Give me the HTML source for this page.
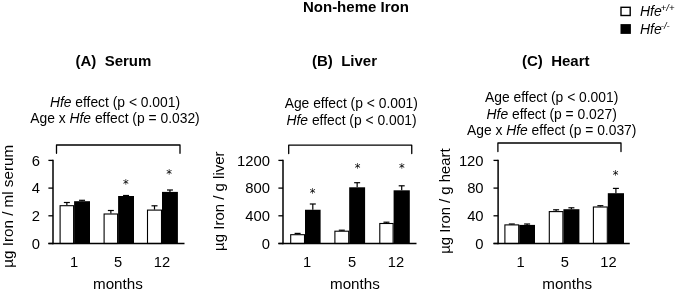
<!DOCTYPE html>
<html><head><meta charset="utf-8"><title>Non-heme Iron</title>
<style>
html,body{margin:0;padding:0;background:#fff;}
svg{display:block;font-family:"Liberation Sans",Arial,sans-serif;fill:#000;}
svg text{fill:#000;}
.b{font-weight:bold;}
.i{font-style:italic;}
</style></head><body>
<svg width="675" height="291" viewBox="0 0 675 291">
<rect width="675" height="291" fill="#fff"/>
<text x="355.9" y="12.1" text-anchor="middle" font-size="15" class="b">Non-heme Iron</text>
<text x="75.5" y="66.3" font-size="15" class="b" xml:space="preserve">(A)  Serum</text>
<text x="312" y="66.3" font-size="15" class="b" xml:space="preserve">(B)  Liver</text>
<text x="522" y="66.3" font-size="15" class="b" xml:space="preserve">(C)  Heart</text>
<rect x="621" y="7.3" width="9.2" height="8.2" fill="#fff" stroke="#000" stroke-width="1.4"/>
<rect x="620.5" y="24.1" width="10.4" height="9.8" fill="#000"/>
<text x="640" y="15.5" font-size="14" class="i">Hfe<tspan font-size="9.5" dx="-1" dy="-4.6">+/+</tspan></text>
<text x="640" y="33.7" font-size="14" class="i">Hfe<tspan font-size="9.5" dx="-1" dy="-4.6">-/-</tspan></text>

<text x="115" y="107.1" text-anchor="middle" font-size="13.85"><tspan class="i">Hfe</tspan> effect (p &lt; 0.001)</text>
<text x="115" y="123.1" text-anchor="middle" font-size="13.85">Age x <tspan class="i">Hfe</tspan> effect (p = 0.032)</text>

<text x="351.3" y="108.1" text-anchor="middle" font-size="13.85">Age effect (p &lt; 0.001)</text>
<text x="351.6" y="124.9" text-anchor="middle" font-size="13.85"><tspan class="i">Hfe</tspan> effect (p &lt; 0.001)</text>

<text x="551.7" y="101.9" text-anchor="middle" font-size="13.85">Age effect (p &lt; 0.001)</text>
<text x="551.7" y="118.7" text-anchor="middle" font-size="13.85"><tspan class="i">Hfe</tspan> effect (p = 0.027)</text>
<text x="551.7" y="134.9" text-anchor="middle" font-size="13.85">Age x <tspan class="i">Hfe</tspan> effect (p = 0.037)</text>
<line x1="66.85" y1="205.2" x2="66.85" y2="202.5" stroke="#000" stroke-width="1.2"/>
<line x1="63.849999999999994" y1="202.5" x2="69.85" y2="202.5" stroke="#000" stroke-width="1.2"/>
<rect x="60.1" y="205.7" width="13.499999999999993" height="37.80000000000001" fill="#fff" stroke="#000" stroke-width="1.1"/>
<line x1="82.05" y1="201.2" x2="82.05" y2="200.3" stroke="#000" stroke-width="1.2"/>
<line x1="79.05" y1="200.3" x2="85.05" y2="200.3" stroke="#000" stroke-width="1.2"/>
<rect x="74.1" y="201.2" width="15.900000000000006" height="42.30000000000001" fill="#000"/>
<line x1="110.85" y1="213.5" x2="110.85" y2="210.5" stroke="#000" stroke-width="1.2"/>
<line x1="107.85" y1="210.5" x2="113.85" y2="210.5" stroke="#000" stroke-width="1.2"/>
<rect x="104.1" y="214.0" width="13.5" height="29.5" fill="#fff" stroke="#000" stroke-width="1.1"/>
<line x1="126.05" y1="196" x2="126.05" y2="195.5" stroke="#000" stroke-width="1.2"/>
<line x1="123.05" y1="195.5" x2="129.05" y2="195.5" stroke="#000" stroke-width="1.2"/>
<rect x="118.1" y="196" width="15.900000000000006" height="47.5" fill="#000"/>
<line x1="154.5" y1="209.6" x2="154.5" y2="205.8" stroke="#000" stroke-width="1.2"/>
<line x1="151.5" y1="205.8" x2="157.5" y2="205.8" stroke="#000" stroke-width="1.2"/>
<rect x="147.5" y="210.1" width="14" height="33.400000000000006" fill="#fff" stroke="#000" stroke-width="1.1"/>
<line x1="169.95" y1="191.9" x2="169.95" y2="190" stroke="#000" stroke-width="1.2"/>
<line x1="166.95" y1="190" x2="172.95" y2="190" stroke="#000" stroke-width="1.2"/>
<rect x="162" y="191.9" width="15.900000000000006" height="51.599999999999994" fill="#000"/>
<line x1="53" y1="159.8" x2="53" y2="244.2" stroke="#000" stroke-width="1.5"/>
<line x1="48.4" y1="243.5" x2="184.5" y2="243.5" stroke="#000" stroke-width="1.5"/>
<line x1="48.4" y1="243.5" x2="53" y2="243.5" stroke="#000" stroke-width="1.3"/>
<text x="40" y="248.6" text-anchor="end" font-size="14.8">0</text>
<line x1="48.4" y1="215.8" x2="53" y2="215.8" stroke="#000" stroke-width="1.3"/>
<text x="40" y="220.9" text-anchor="end" font-size="14.8">2</text>
<line x1="48.4" y1="188.1" x2="53" y2="188.1" stroke="#000" stroke-width="1.3"/>
<text x="40" y="193.2" text-anchor="end" font-size="14.8">4</text>
<line x1="48.4" y1="160.4" x2="53" y2="160.4" stroke="#000" stroke-width="1.3"/>
<text x="40" y="165.5" text-anchor="end" font-size="14.8">6</text>
<text x="74" y="266.8" text-anchor="middle" font-size="14.7">1</text>
<text x="118" y="266.8" text-anchor="middle" font-size="14.7">5</text>
<text x="162" y="266.8" text-anchor="middle" font-size="14.7">12</text>
<text x="117.9" y="289.4" text-anchor="middle" font-size="15.2">months</text>
<text transform="translate(12.6,206.3) rotate(-90)" text-anchor="middle" font-size="15.2">µg Iron / ml serum</text>
<text x="125.9" y="187.7" text-anchor="middle" font-size="11.5" font-family="DejaVu Sans, Liberation Sans, sans-serif">*</text>
<text x="169" y="178.2" text-anchor="middle" font-size="11.5" font-family="DejaVu Sans, Liberation Sans, sans-serif">*</text>
<path d="M56.5 153.3 V145 H180 V153.3" fill="none" stroke="#000" stroke-width="1.3" stroke-linejoin="round" stroke-linecap="round"/>
<line x1="297.6" y1="234.2" x2="297.6" y2="233.4" stroke="#000" stroke-width="1.2"/>
<line x1="294.6" y1="233.4" x2="300.6" y2="233.4" stroke="#000" stroke-width="1.2"/>
<rect x="290.7" y="234.7" width="13.800000000000011" height="8.800000000000011" fill="#fff" stroke="#000" stroke-width="1.1"/>
<line x1="312.8" y1="209.75" x2="312.8" y2="204" stroke="#000" stroke-width="1.2"/>
<line x1="309.8" y1="204" x2="315.8" y2="204" stroke="#000" stroke-width="1.2"/>
<rect x="305" y="209.75" width="15.600000000000023" height="33.75" fill="#000"/>
<line x1="341.79999999999995" y1="230.7" x2="341.79999999999995" y2="230.2" stroke="#000" stroke-width="1.2"/>
<line x1="338.79999999999995" y1="230.2" x2="344.79999999999995" y2="230.2" stroke="#000" stroke-width="1.2"/>
<rect x="334.9" y="231.2" width="13.800000000000011" height="12.300000000000011" fill="#fff" stroke="#000" stroke-width="1.1"/>
<line x1="357.15" y1="187.3" x2="357.15" y2="182.7" stroke="#000" stroke-width="1.2"/>
<line x1="354.15" y1="182.7" x2="360.15" y2="182.7" stroke="#000" stroke-width="1.2"/>
<rect x="349.2" y="187.3" width="15.900000000000034" height="56.19999999999999" fill="#000"/>
<line x1="386.45000000000005" y1="223" x2="386.45000000000005" y2="222.2" stroke="#000" stroke-width="1.2"/>
<line x1="383.45000000000005" y1="222.2" x2="389.45000000000005" y2="222.2" stroke="#000" stroke-width="1.2"/>
<rect x="379.8" y="223.5" width="13.300000000000011" height="20.0" fill="#fff" stroke="#000" stroke-width="1.1"/>
<line x1="401.70000000000005" y1="190.3" x2="401.70000000000005" y2="185.8" stroke="#000" stroke-width="1.2"/>
<line x1="398.70000000000005" y1="185.8" x2="404.70000000000005" y2="185.8" stroke="#000" stroke-width="1.2"/>
<rect x="393.6" y="190.3" width="16.19999999999999" height="53.19999999999999" fill="#000"/>
<line x1="283" y1="159.8" x2="283" y2="244.2" stroke="#000" stroke-width="1.5"/>
<line x1="278.4" y1="243.5" x2="416.5" y2="243.5" stroke="#000" stroke-width="1.5"/>
<line x1="278.4" y1="243.5" x2="283" y2="243.5" stroke="#000" stroke-width="1.3"/>
<text x="270" y="248.6" text-anchor="end" font-size="14.8">0</text>
<line x1="278.4" y1="215.8" x2="283" y2="215.8" stroke="#000" stroke-width="1.3"/>
<text x="270" y="220.9" text-anchor="end" font-size="14.8">400</text>
<line x1="278.4" y1="188.1" x2="283" y2="188.1" stroke="#000" stroke-width="1.3"/>
<text x="270" y="193.2" text-anchor="end" font-size="14.8">800</text>
<line x1="278.4" y1="160.4" x2="283" y2="160.4" stroke="#000" stroke-width="1.3"/>
<text x="270" y="165.5" text-anchor="end" font-size="14.8">1200</text>
<text x="307" y="266.8" text-anchor="middle" font-size="14.7">1</text>
<text x="352" y="266.8" text-anchor="middle" font-size="14.7">5</text>
<text x="396" y="266.8" text-anchor="middle" font-size="14.7">12</text>
<text x="354.9" y="289.4" text-anchor="middle" font-size="15.2">months</text>
<text transform="translate(223.7,201.15) rotate(-90)" text-anchor="middle" font-size="15.0">µg Iron / g liver</text>
<text x="312.7" y="196.79999999999998" text-anchor="middle" font-size="11.5" font-family="DejaVu Sans, Liberation Sans, sans-serif">*</text>
<text x="357.6" y="172.0" text-anchor="middle" font-size="11.5" font-family="DejaVu Sans, Liberation Sans, sans-serif">*</text>
<text x="401.8" y="172.0" text-anchor="middle" font-size="11.5" font-family="DejaVu Sans, Liberation Sans, sans-serif">*</text>
<path d="M288.7 153.5 V145.2 H411.75 V153.5" fill="none" stroke="#000" stroke-width="1.3" stroke-linejoin="round" stroke-linecap="round"/>
<line x1="511.8" y1="224.4" x2="511.8" y2="224" stroke="#000" stroke-width="1.2"/>
<line x1="508.8" y1="224" x2="514.8" y2="224" stroke="#000" stroke-width="1.2"/>
<rect x="504.9" y="224.9" width="13.800000000000068" height="18.599999999999994" fill="#fff" stroke="#000" stroke-width="1.1"/>
<line x1="527.1" y1="224.9" x2="527.1" y2="224" stroke="#000" stroke-width="1.2"/>
<line x1="524.1" y1="224" x2="530.1" y2="224" stroke="#000" stroke-width="1.2"/>
<rect x="519.2" y="224.9" width="15.799999999999955" height="18.599999999999994" fill="#000"/>
<line x1="556.0999999999999" y1="211.1" x2="556.0999999999999" y2="209.8" stroke="#000" stroke-width="1.2"/>
<line x1="553.0999999999999" y1="209.8" x2="559.0999999999999" y2="209.8" stroke="#000" stroke-width="1.2"/>
<rect x="549.3" y="211.6" width="13.600000000000023" height="31.900000000000006" fill="#fff" stroke="#000" stroke-width="1.1"/>
<line x1="571.4" y1="209.2" x2="571.4" y2="207.8" stroke="#000" stroke-width="1.2"/>
<line x1="568.4" y1="207.8" x2="574.4" y2="207.8" stroke="#000" stroke-width="1.2"/>
<rect x="563.4" y="209.2" width="16.0" height="34.30000000000001" fill="#000"/>
<line x1="600.3499999999999" y1="206.5" x2="600.3499999999999" y2="205.7" stroke="#000" stroke-width="1.2"/>
<line x1="597.3499999999999" y1="205.7" x2="603.3499999999999" y2="205.7" stroke="#000" stroke-width="1.2"/>
<rect x="593.4" y="207.0" width="13.899999999999977" height="36.5" fill="#fff" stroke="#000" stroke-width="1.1"/>
<line x1="615.9" y1="193.2" x2="615.9" y2="188.4" stroke="#000" stroke-width="1.2"/>
<line x1="612.9" y1="188.4" x2="618.9" y2="188.4" stroke="#000" stroke-width="1.2"/>
<rect x="607.8" y="193.2" width="16.200000000000045" height="50.30000000000001" fill="#000"/>
<line x1="498.1" y1="159.8" x2="498.1" y2="244.2" stroke="#000" stroke-width="1.5"/>
<line x1="493.5" y1="243.5" x2="629.75" y2="243.5" stroke="#000" stroke-width="1.5"/>
<line x1="493.5" y1="243.5" x2="498.1" y2="243.5" stroke="#000" stroke-width="1.3"/>
<text x="483.6" y="248.6" text-anchor="end" font-size="14.8">0</text>
<line x1="493.5" y1="215.8" x2="498.1" y2="215.8" stroke="#000" stroke-width="1.3"/>
<text x="483.6" y="220.9" text-anchor="end" font-size="14.8">40</text>
<line x1="493.5" y1="188.1" x2="498.1" y2="188.1" stroke="#000" stroke-width="1.3"/>
<text x="483.6" y="193.2" text-anchor="end" font-size="14.8">80</text>
<line x1="493.5" y1="160.4" x2="498.1" y2="160.4" stroke="#000" stroke-width="1.3"/>
<text x="483.6" y="165.5" text-anchor="end" font-size="14.8">120</text>
<text x="520.5" y="266.8" text-anchor="middle" font-size="14.7">1</text>
<text x="564.75" y="266.8" text-anchor="middle" font-size="14.7">5</text>
<text x="608.5" y="266.8" text-anchor="middle" font-size="14.7">12</text>
<text x="567.15" y="289.4" text-anchor="middle" font-size="15.2">months</text>
<text transform="translate(449.9,201.0) rotate(-90)" text-anchor="middle" font-size="14.9">µg Iron / g heart</text>
<text x="615.6" y="178.5" text-anchor="middle" font-size="11.5" font-family="DejaVu Sans, Liberation Sans, sans-serif">*</text>
<path d="M497.9 151.5 V143 H621 V151.5" fill="none" stroke="#000" stroke-width="1.3" stroke-linejoin="round" stroke-linecap="round"/>
</svg>
</body></html>
